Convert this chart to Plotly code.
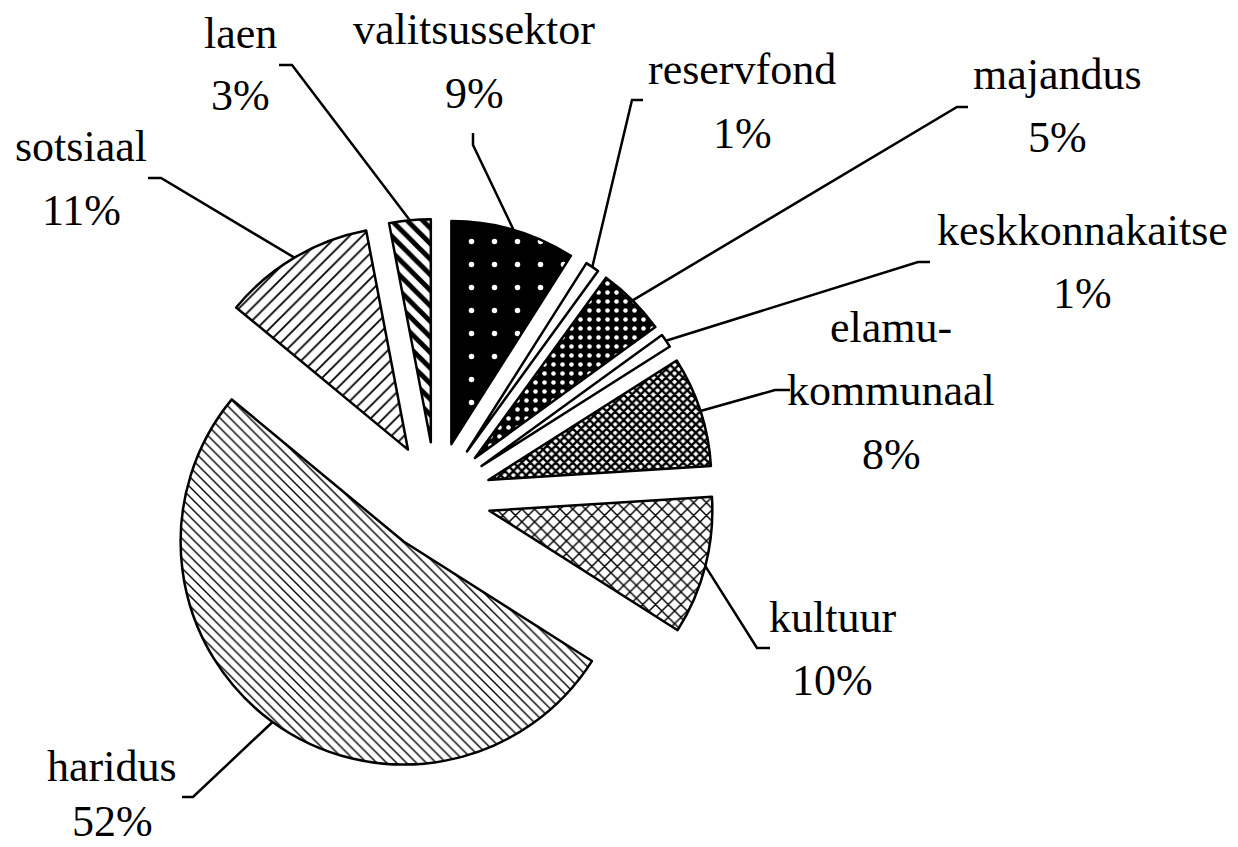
import math
import plotly.graph_objects as go

# ---- data ----
categories = ["valitsussektor", "reservfond", "majandus", "keskkonnakaitse",
              "elamu-kommunaal", "kultuur", "haridus", "sotsiaal", "laen"]
values = [9, 1, 5, 1, 8, 10, 52, 11, 3]

# ---- layout / style ----
W, H = 1238, 847
CX, CY, R = 436, 497, 223          # pie centre and radius in page pixels
PULL = 0.247
FONT = dict(family="Liberation Serif", size=44, color="black")
LINE_GAP = 63

pat_shape = [".", "", ".", "", "x", "x", "\\", "/", "\\"]
pat_bg = ["black", "white", "black", "white", "white", "white", "white", "white", "white"]
pat_fg = ["white", "black", "white", "black", "black", "black", "black", "black", "black"]
pat_size = [23, 8, 9, 8, 6, 9, 7, 9, 11]
pat_solid = [0.045, 0.3, 0.2, 0.3, 0.65, 0.3, 0.2, 0.2, 0.45]

# label centre x and first-line baseline (pixels)
label_pos = [(474, 45), (742, 85), (1057, 90), (1082, 245), (891, 343),
             (833, 632), (112, 781), (81, 162), (240, 48)]
# leader line: stub start, elbow (pixels); last point is computed on the slice
leader = [((473, 133), (473, 145)), ((643, 100), (632, 100)), ((968, 107), (957, 107)),
          ((930, 262), (918, 262)), ((790, 390), (775, 390)), ((770, 648), (757, 648)),
          ((182, 797), (193, 797)), ((148, 178), (161, 178)), ((279, 65), (292, 65))]

half = R * (1 + PULL)
dom_x = [(CX - half) / W, (CX + half) / W]
dom_y = [(H - CY - half) / H, (H - CY + half) / H]

fig = go.Figure(go.Pie(
    labels=categories, values=values, sort=False, direction="clockwise", rotation=0,
    pull=[PULL] * len(values), textinfo="none", hoverinfo="label+percent",
    showlegend=False,
    marker=dict(colors=pat_bg, line=dict(color="black", width=2.5),
                pattern=dict(shape=pat_shape, fgcolor=pat_fg, bgcolor=pat_bg,
                             size=pat_size, solidity=pat_solid, fillmode="replace")),
    domain=dict(x=dom_x, y=dom_y),
))

def px(x, y):
    return x / W, 1 - y / H

total = sum(values)
cum = 0
annotations = []
shapes = []
for cat, v, (lx, lb), (p0, p1) in zip(categories, values, label_pos, leader):
    mid = (cum + v / 2) / total * 2 * math.pi
    cum += v
    ex = CX + half * math.sin(mid)
    ey = CY - half * math.cos(mid)
    # label lines
    if "-" in cat:
        a, b = cat.split("-", 1)
        lines = [a + "-", b]
    else:
        lines = [cat]
    lines.append(f"{round(v / total * 100)}%")
    for i, t in enumerate(lines):
        cy = min(lb + i * LINE_GAP - 15, H - 26)   # keep text box inside the page
        x, y = px(lx, cy)
        annotations.append(dict(x=x, y=y, xref="paper", yref="paper", text=t,
                                showarrow=False, xanchor="center", yanchor="middle",
                                font=FONT))
    pts = [px(*p0), px(*p1), px(ex, ey)]
    path = "M {} {} L {} {} L {} {}".format(*[c for p in pts for c in p])
    shapes.append(dict(type="path", xref="paper", yref="paper", path=path,
                       line=dict(color="black", width=2.5)))

fig.update_layout(width=W, height=H, margin=dict(l=0, r=0, t=0, b=0),
                  paper_bgcolor="white", plot_bgcolor="white",
                  annotations=annotations, shapes=shapes)
fig.write_html("out.html", config={"displayModeBar": False},
               post_script="document.body.style.margin='0';document.body.style.overflow='hidden';")
